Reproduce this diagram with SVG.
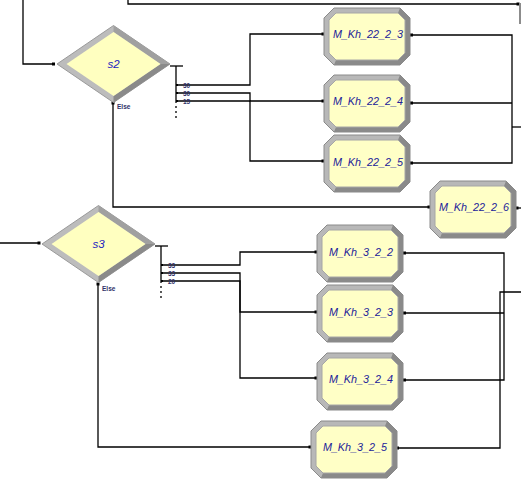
<svg xmlns="http://www.w3.org/2000/svg" xmlns:xlink="http://www.w3.org/1999/xlink" width="521" height="491" viewBox="0 0 521 491">
<style>
.c{fill:none;stroke:#000;stroke-width:1.3}
.d{fill:none;stroke:#000;stroke-width:1.3;stroke-dasharray:2 3}
.lbl{font-family:"Liberation Sans",Arial,sans-serif;font-style:italic;font-size:10.8px;fill:#22229a;text-anchor:middle}
.dl{font-family:"Liberation Sans",Arial,sans-serif;font-style:italic;font-size:11.5px;fill:#2424c0;text-anchor:middle}
.sm{font-family:"Liberation Sans",Arial,sans-serif;font-weight:bold;font-size:6.5px;fill:#303068}
.pt{fill:#000}
</style>
<defs>
<g id="oct">
<polygon points="10,0 76,0 86,10 86,47 76,57 10,57 0,47 0,10" fill="#b8b8b8" stroke="#8a8a8a" stroke-width="1"/>
<polygon points="76,0 86,10 86,47 76,57 10,57 12,52 74,52 81,45 81,12 74,5" fill="#8a8a8a"/>
<polygon points="12,5 74,5 81,12 81,45 74,52 12,52 5,45 5,12" fill="#ffffc6" stroke="#a6a6a6" stroke-width="1"/>
</g>
<g id="dia">
<polygon points="-56.5,0 0,-38.5 56.5,0 0,38.5" fill="#bcbcbc" stroke="#9a9a9a" stroke-width="1"/>
<polygon points="56.5,0 0,38.5 0,32 47,0" fill="#8a8a8a"/>
<polygon points="0,-38.5 56.5,0 47,0 0,-32" fill="#a0a0a0"/>
<polygon points="-47,0 0,-32 47,0 0,32" fill="#ffffc0"/>
</g>
</defs>

<g id="connectors">
<polyline class="c" points="23,0 23,64 55,64"/>
<rect class="pt" x="52" y="62.5" width="3" height="3"/>
<polyline class="c" points="128,0 128,4 518,4"/>
<rect class="pt" x="516.5" y="2.5" width="3" height="3"/>
<line x1="520" y1="3" x2="520" y2="24" stroke="#8c8c8c" stroke-width="2"/>

<polyline class="c" points="170,66 183,66"/>
<line class="c" x1="176" y1="66" x2="176" y2="103"/>
<line class="d" x1="176" y1="106" x2="176" y2="119"/>
<polyline class="c" points="176,85 250,85 250,34 323,34"/>
<polyline class="c" points="176,93 250,93 250,101 323,101"/>
<polyline class="c" points="176,101 250,101 250,161 323,161"/>
<rect class="pt" x="176" y="84" width="2" height="2"/>
<rect class="pt" x="176" y="92" width="2" height="2"/>
<rect class="pt" x="176" y="100" width="2" height="2"/>
<rect class="pt" x="321.5" y="32.5" width="3" height="3"/>
<rect class="pt" x="321.5" y="99.5" width="3" height="3"/>
<rect class="pt" x="321.5" y="159.5" width="3" height="3"/>

<polyline class="c" points="411,35 512,35 512,163 411,163"/>
<line class="c" x1="411" y1="103" x2="512" y2="103"/>
<line class="c" x1="512" y1="127" x2="521" y2="127"/>
<rect class="pt" x="410" y="33.5" width="3" height="3"/>
<rect class="pt" x="410" y="101.5" width="3" height="3"/>
<rect class="pt" x="410" y="161.5" width="3" height="3"/>

<polyline class="c" points="113,102 113,207 429,207"/>
<rect class="pt" x="111.5" y="101.5" width="3" height="3"/>
<rect class="pt" x="427.5" y="205.5" width="3" height="3"/>
<line class="c" x1="516" y1="208" x2="521" y2="208"/>
<rect class="pt" x="515.5" y="206.5" width="3" height="3"/>

<polyline class="c" points="0,243 40,243"/>
<rect class="pt" x="37.5" y="241.5" width="3" height="3"/>
<polyline class="c" points="155,246 168,246"/>
<line class="c" x1="161" y1="246" x2="161" y2="283"/>
<line class="d" x1="161" y1="286" x2="161" y2="300"/>
<polyline class="c" points="161,265 240,265 240,252 316,252"/>
<polyline class="c" points="161,273 240,273 240,312 316,312"/>
<polyline class="c" points="161,281 240,281 240,378 316,378"/>
<rect class="pt" x="161" y="264" width="2" height="2"/>
<rect class="pt" x="161" y="272" width="2" height="2"/>
<rect class="pt" x="161" y="280" width="2" height="2"/>
<rect class="pt" x="314.5" y="250.5" width="3" height="3"/>
<rect class="pt" x="314.5" y="310.5" width="3" height="3"/>
<rect class="pt" x="314.5" y="376.5" width="3" height="3"/>

<polyline class="c" points="404,253 504,253 504,380 404,380"/>
<line class="c" x1="404" y1="313" x2="504" y2="313"/>
<rect class="pt" x="403" y="251.5" width="3" height="3"/>
<rect class="pt" x="403" y="311.5" width="3" height="3"/>
<rect class="pt" x="403" y="378.5" width="3" height="3"/>
<polyline class="c" points="397,448 500,448 500,292 521,292"/>
<rect class="pt" x="396" y="446.5" width="3" height="3"/>

<polyline class="c" points="98,283 98,447 310,447"/>
<rect class="pt" x="96.5" y="282.5" width="3" height="3"/>
<rect class="pt" x="308.5" y="445.5" width="3" height="3"/>

<text class="sm" x="183" y="87.5">30</text>
<text class="sm" x="183" y="95.5">30</text>
<text class="sm" x="183" y="103.5">15</text>
<text class="sm" x="117" y="108.5">Else</text>
<text class="sm" x="168" y="267.5">33</text>
<text class="sm" x="168" y="275.5">33</text>
<text class="sm" x="168" y="283.5">20</text>
<text class="sm" x="102" y="290.5">Else</text>
</g>

<g id="s2">
<use xlink:href="#dia" x="113.5" y="64"/>
<text class="dl" x="113.5" y="68">s2</text>
</g>
<g id="s3">
<use xlink:href="#dia" x="98.5" y="244"/>
<text class="dl" x="98.5" y="248">s3</text>
</g>

<g id="M_Kh_22_2_3" transform="translate(324,8)">
<use xlink:href="#oct"/>
<text class="lbl" x="44" y="30">M_Kh_22_2_3</text>
</g>
<g id="M_Kh_22_2_4" transform="translate(324,75)">
<use xlink:href="#oct"/>
<text class="lbl" x="44" y="30">M_Kh_22_2_4</text>
</g>
<g id="M_Kh_22_2_5" transform="translate(324,135)">
<use xlink:href="#oct"/>
<text class="lbl" x="44" y="31">M_Kh_22_2_5</text>
</g>
<g id="M_Kh_22_2_6" transform="translate(430,181)">
<use xlink:href="#oct"/>
<text class="lbl" x="44" y="30">M_Kh_22_2_6</text>
</g>
<g id="M_Kh_3_2_2" transform="translate(317,225)">
<use xlink:href="#oct"/>
<text class="lbl" x="44" y="31">M_Kh_3_2_2</text>
</g>
<g id="M_Kh_3_2_3" transform="translate(317,285)">
<use xlink:href="#oct"/>
<text class="lbl" x="44" y="31">M_Kh_3_2_3</text>
</g>
<g id="M_Kh_3_2_4" transform="translate(317,353)">
<use xlink:href="#oct"/>
<text class="lbl" x="44" y="30">M_Kh_3_2_4</text>
</g>
<g id="M_Kh_3_2_5" transform="translate(311,421)">
<use xlink:href="#oct"/>
<text class="lbl" x="44" y="30">M_Kh_3_2_5</text>
</g>
</svg>
